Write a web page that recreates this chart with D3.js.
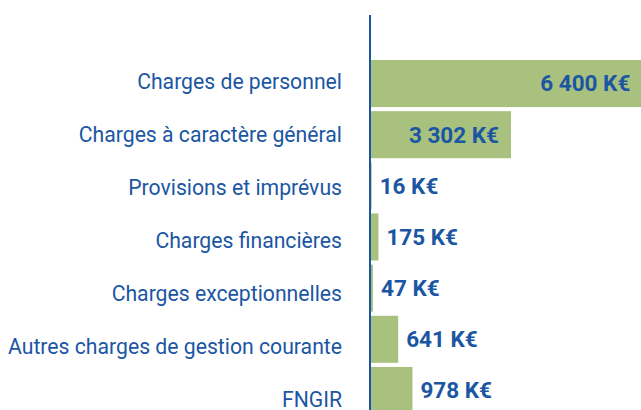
<html>
<head>
  <script src="https://d3js.org/d3.v7.min.js"></script>
  <style>
    body { margin: 0; background: white; }
    text { font-family: Roboto, sans-serif; }
  </style>
</head>
<body>
  <svg id="chart" width="641" height="410"></svg>
  <script>
    const categories = [
      "Charges de personnel",
      "Charges à caractère général",
      "Provisions et imprévus",
      "Charges financières",
      "Charges exceptionnelles",
      "Autres charges de gestion courante",
      "FNGIR"
    ];
    const values = [6400, 3302, 16, 175, 47, 641, 978];
    const valueLabels = ["6 400 K€", "3 302 K€", "16 K€", "175 K€", "47 K€", "641 K€", "978 K€"];
    // labels that sit inside their bar
    const insideLabels = [true, true, false, false, false, false, false];

    const blue = "#1b56a3";
    const green = "#a9c17f";

    const svg = d3.select("svg#chart");
    const axisX = 370;

    const x = d3.scaleLinear().domain([0, 3302]).range([axisX + 1, 511]);
    const y = d3.scaleBand().domain(categories).range([60, 414]).paddingInner(0.08).paddingOuter(0);
    // category names are spaced a little wider than the bars
    const yLabel = d3.scalePoint().domain(categories).range([82, 400]);

    svg.selectAll("rect.bar")
      .data(values)
      .enter().append("rect")
      .attr("class", "bar")
      .attr("x", x(0))
      .attr("y", (d, i) => y(categories[i]))
      .attr("width", d => x(d) - x(0))
      .attr("height", y.bandwidth())
      .style("fill", green);

    svg.append("line")
      .attr("x1", axisX).attr("x2", axisX)
      .attr("y1", 15).attr("y2", 410)
      .style("stroke", blue)
      .style("stroke-width", 2);

    svg.selectAll("text.cat")
      .data(categories)
      .enter().append("text")
      .attr("class", "cat")
      .attr("x", 342)
      .attr("y", d => yLabel(d))
      .attr("dy", "0.35em")
      .attr("text-anchor", "end")
      .style("font-size", "21.2px")
      .style("fill", blue)
      .text(d => d);

    svg.selectAll("text.val")
      .data(values)
      .enter().append("text")
      .attr("class", "val")
      .attr("x", (d, i) => insideLabels[i] ? x(d) - 12 : x(d) + 8)
      .attr("y", (d, i) => y(categories[i]) + y.bandwidth() / 2)
      .attr("dy", "0.35em")
      .attr("text-anchor", (d, i) => insideLabels[i] ? "end" : "start")
      .style("font-size", "22.5px")
      .style("font-weight", "bold")
      .style("fill", blue)
      .text((d, i) => valueLabels[i]);
  </script>
</body>
</html>
